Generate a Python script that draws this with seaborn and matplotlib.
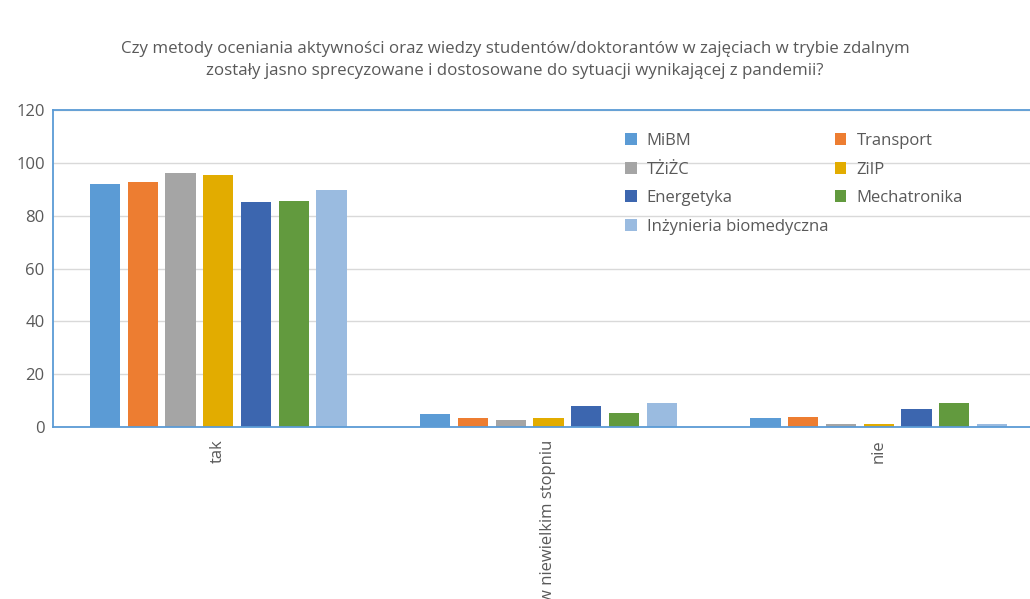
import seaborn as sns
import matplotlib.pyplot as plt
import pandas as pd

answers = ["tak", "w niewielkim stopniu", "nie"]
kierunki = ["MiBM", "Transport", "TŻiŻC", "ZiIP", "Energetyka", "Mechatronika",
            "Inżynieria biomedyczna"]

# percentage per answer, one list per field of study
mibm = [92, 4.8, 3.4]
transport = [92.7, 3.4, 3.9]
tzizc = [96.2, 2.8, 1.0]
ziip = [95.5, 3.4, 1.0]
energetyka = [85.3, 8.1, 6.7]
mechatronika = [85.6, 5.2, 9.1]
biomed = [89.6, 9.1, 1.1]

colors = ["#5B9BD5", "#ED7D31", "#A5A5A5", "#E2AC00", "#3C66AF", "#629A3E", "#9ABBE0"]

values = [mibm, transport, tzizc, ziip, energetyka, mechatronika, biomed]
rows = []
for k, vals in zip(kierunki, values):
    for a, v in zip(answers, vals):
        rows.append({"odp": a, "kierunek": k, "proc": v})
df = pd.DataFrame(rows)

sns.set_style("white")
plt.rcParams["font.family"] = ["Open Sans", "DejaVu Sans"]

fig = plt.figure(figsize=(10.3, 5.99), dpi=100)
ax = fig.add_axes([0.0515, 0.287, 0.962, 0.529])

sns.barplot(data=df, x="odp", y="proc", hue="kierunek", order=answers,
            hue_order=kierunki, palette=colors, width=0.8, gap=0.2,
            saturation=1, linewidth=0, ax=ax, zorder=3)

ax.set_ylim(0, 120)
ax.set_yticks(range(0, 121, 20))
ax.set_xlim(-0.5, 2.5)
ax.yaxis.grid(True, color="#D9D9D9", linewidth=1, zorder=0)
ax.set_axisbelow(True)
for side in ["left", "top", "bottom", "right"]:
    ax.spines[side].set_color("#5B9BD5")
    ax.spines[side].set_linewidth(1.3)
    ax.spines[side].set_zorder(5)
ax.spines["right"].set_visible(False)
ax.tick_params(axis="both", length=0, colors="#595959", labelsize=12, pad=6)
ax.tick_params(axis="x", pad=9)
for lbl in ax.get_xticklabels():
    lbl.set_rotation(90)
    lbl.set_va("top")
ax.set_xlabel("")
ax.set_ylabel("")

# legend filled row by row like in Excel
handles, labels = ax.get_legend_handles_labels()
order = [0, 2, 4, 6, 1, 3, 5]
leg = ax.legend([handles[i] for i in order], [labels[i] for i in order],
                ncol=2, loc="upper left", bbox_to_anchor=(0.562, 0.975),
                frameon=False, fontsize=12, handlelength=0.7, handleheight=0.7,
                columnspacing=0.4, labelspacing=0.75, handletextpad=0.6)
for t in leg.get_texts():
    t.set_color("#595959")

fig.text(0.5, 0.9,
         "Czy metody oceniania aktywności oraz wiedzy studentów/doktorantów w zajęciach w trybie zdalnym\n"
         "zostały jasno sprecyzowane i dostosowane do sytuacji wynikającej z pandemii?",
         ha="center", va="center", fontsize=12.2, color="#595959", linespacing=1.45)

fig.savefig("out.png", dpi=100)
